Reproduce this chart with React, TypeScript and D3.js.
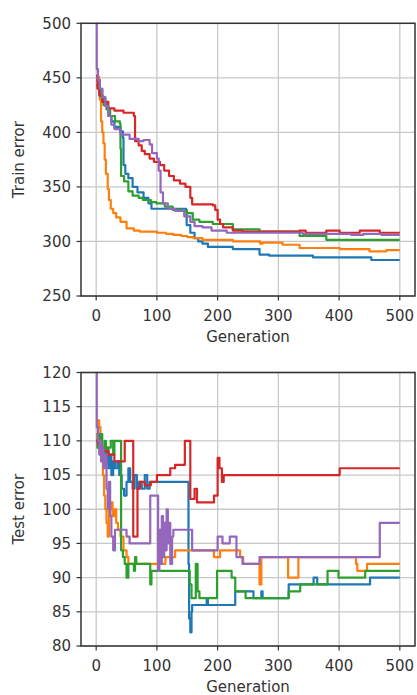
import React from 'react';
import * as d3 from 'd3';

// tab10 colours, in matplotlib draw order
const colors = ['#1f77b4', '#ff7f0e', '#2ca02c', '#d62728', '#9467bd'];

// train error, [generation, value] breakpoints (step after)
const trainBlue = [[0, 448], [5, 440], [10, 432], [15, 426], [18, 422], [20, 415], [25, 410], [30, 405], [40, 401], [44, 395], [45, 370], [48, 362], [53, 358], [60, 350], [68, 345], [78, 340], [86, 335], [91, 330], [148, 329], [149, 315], [155, 308], [162, 303], [168, 300], [175, 298], [184, 295], [225, 293], [269, 288], [285, 287], [357, 285.5], [453, 283], [500, 283]];
const trainOrange = [[0, 451], [5, 448], [6, 430], [8, 410], [10, 400], [12, 390], [14, 375], [16, 362], [19, 348], [21, 338], [24, 330], [28, 326], [33, 322], [40, 318], [50, 312], [62, 310], [72, 309], [100, 308], [115, 307], [127, 306], [140, 305], [150, 304], [160, 303], [175, 301.5], [225, 300], [270, 298], [274, 299], [307, 297], [335, 294], [401, 293], [450, 291], [478, 292], [500, 292]];
const trainGreen = [[0, 443], [6, 433], [12, 425], [17, 421], [23, 415], [31, 410], [39, 408], [40, 385], [41, 360], [46, 355], [53, 346], [60, 342], [70, 340], [77, 338], [90, 336], [99, 335], [113, 332], [126, 329], [140, 328], [149, 326], [159, 320], [170, 318], [192, 316], [225, 311], [269, 309], [335, 305], [379, 301.5], [500, 301.5]];
const trainRed = [[0, 452], [2, 440], [5, 434], [10, 428], [20, 422], [30, 420], [45, 418], [62, 415], [64, 392], [70, 388], [75, 383], [80, 380], [88, 376], [95, 373], [105, 370], [112, 365], [120, 360], [128, 356], [138, 353], [147, 350], [155, 340], [158, 334], [192, 333], [196, 329], [200, 320], [204, 316], [209, 313], [225, 310], [241, 309], [330, 309], [335, 310], [345, 308], [379, 310], [401, 308], [434, 310], [467, 308], [500, 308]];
const trainPurple = [[0, 500], [1, 458], [3, 448], [6, 440], [10, 432], [15, 424], [20, 415], [25, 407], [30, 403], [40, 398], [55, 394], [70, 392], [78, 393], [88, 389], [92, 381], [100, 376], [103, 365], [106, 345], [110, 335], [118, 330], [130, 328], [145, 323], [155, 318], [162, 314], [175, 313], [190, 310], [215, 308], [340, 307], [420, 306], [440, 307], [470, 306], [500, 306]];

// test error
const testBlue = [[0, 111], [2, 110], [4, 109], [6, 110], [9, 108], [12, 109], [15, 107], [18, 109], [20, 106], [23, 108], [25, 105], [28, 107], [31, 106], [35, 107], [38, 105], [42, 103], [46, 102], [50, 104], [53, 106], [56, 104], [60, 103], [63, 105], [67, 103], [70, 104], [75, 103], [80, 105], [84, 103], [88, 104], [151, 104], [152, 92], [153, 84], [155, 82], [157, 85], [158, 86], [180, 86], [182, 87], [184, 86], [228, 86], [229, 88], [258, 88], [259, 87], [271, 87], [272, 88], [274, 87], [316, 87], [317, 89], [357, 89], [358, 90], [363, 90], [364, 89], [450, 89], [451, 90], [500, 90]];
const testOrange = [[0, 110], [2, 111], [3, 113], [5, 112], [7, 110], [9, 108], [11, 105], [13, 102], [15, 100], [17, 98], [19, 96], [21, 100], [24, 101], [27, 99], [30, 100], [33, 98], [36, 97], [40, 96], [45, 94], [50, 93], [53, 92], [113, 92], [114, 93], [129, 93], [130, 94], [193, 94], [194, 93], [203, 93], [204, 94], [236, 94], [237, 93], [242, 92], [268, 92], [269, 89], [271, 89], [272, 93], [315, 93], [316, 90], [332, 90], [333, 93], [425, 93], [428, 92], [430, 91], [445, 91], [446, 92], [500, 92]];
const testGreen = [[0, 110], [2, 109], [4, 111], [6, 110], [8, 111], [10, 109], [14, 110], [16, 108], [20, 109], [24, 110], [28, 108], [30, 110], [40, 110], [41, 94], [44, 93], [47, 92], [50, 90], [53, 92], [60, 92], [62, 91], [64, 93], [66, 92], [88, 92], [89, 89], [91, 91], [153, 91], [154, 89], [157, 87], [163, 87], [164, 92], [167, 88], [170, 87], [198, 87], [199, 91], [222, 91], [223, 90], [228, 90], [229, 88], [245, 88], [246, 87], [316, 87], [317, 88], [335, 88], [336, 89], [380, 89], [381, 91], [398, 91], [399, 90], [442, 90], [443, 91], [500, 91]];
const testRed = [[0, 110], [3, 109.5], [8, 109], [12, 108.5], [20, 108], [30, 107], [47, 110], [61, 96], [68, 103], [72, 104], [80, 103.5], [90, 104], [100, 105], [122, 106], [130, 106.5], [146, 110], [155, 101.5], [162, 103], [166, 101], [194, 102], [200, 107.5], [203, 106], [207, 104], [210, 105], [401, 106], [500, 106]];
const testPurple = [[0, 120], [1, 112], [3, 110], [5, 108], [6, 110], [8, 107], [10, 109], [12, 106], [15, 108], [17, 103], [19, 100], [21, 104], [23, 99], [25, 96], [28, 94], [31, 97], [42, 97], [50, 96], [55, 95], [88, 95], [89, 102], [101, 102], [102, 91], [104, 97], [106, 92], [108, 99], [110, 93], [112, 98], [114, 94], [116, 100], [118, 95], [120, 98], [122, 92], [125, 96], [127, 97], [157, 97], [158, 94], [199, 94], [200, 96], [208, 95], [220, 96], [231, 93], [241, 92], [269, 93], [466, 93], [467, 98], [500, 98]];

const genTicks = [0, 100, 200, 300, 400, 500];
const trainTicks = [250, 300, 350, 400, 450, 500];
const testTicks = [80, 85, 90, 95, 100, 105, 110, 115, 120];

const font = '"DejaVu Sans", sans-serif';
const ink = '#333';

function Panel({ id, top, bottom, yDomain, yTicks, yLabel, series }) {
  const left = 81
  const right = 415
  const x = d3.scaleLinear().domain([-25, 525]).range([left, right])
  const y = d3.scaleLinear().domain(yDomain).range([bottom, top])
  const line = d3.line().x(d => x(d[0])).y(d => y(d[1])).curve(d3.curveStepAfter)

  return (
    <g>
      <defs>
        <clipPath id={id}>
          <rect x={left} y={top - 1} width={right - left} height={bottom - top + 2} />
        </clipPath>
      </defs>
      {genTicks.map(t => (
        <line key={'gx' + t} x1={x(t)} x2={x(t)} y1={top} y2={bottom} stroke="#c8c8c8" strokeWidth={1.3} />
      ))}
      {yTicks.map(t => (
        <line key={'gy' + t} x1={left} x2={right} y1={y(t)} y2={y(t)} stroke="#c8c8c8" strokeWidth={1.3} />
      ))}
      <g clipPath={`url(#${id})`}>
        {series.map((s, i) => (
          <path key={i} d={line(s)} fill="none" stroke={colors[i]} strokeWidth={2.2} strokeLinejoin="round" />
        ))}
      </g>
      <rect x={left} y={top} width={right - left} height={bottom - top} fill="none" stroke={ink} strokeWidth={1.5} />
      {genTicks.map(t => (
        <g key={'tx' + t}>
          <line x1={x(t)} x2={x(t)} y1={bottom} y2={bottom + 4.5} stroke={ink} strokeWidth={1.2} />
          <text x={x(t)} y={bottom + 25} textAnchor="middle" fontSize={15} fill={ink} fontFamily={font}>{t}</text>
        </g>
      ))}
      {yTicks.map(t => (
        <g key={'ty' + t}>
          <line x1={left - 4.5} x2={left} y1={y(t)} y2={y(t)} stroke={ink} strokeWidth={1.2} />
          <text x={left - 10} y={y(t)} dy="0.36em" textAnchor="end" fontSize={15} fill={ink} fontFamily={font}>{t}</text>
        </g>
      ))}
      <text x={(left + right) / 2} y={bottom + 46} textAnchor="middle" fontSize={15} fill={ink} fontFamily={font}>Generation</text>
      <text transform={`translate(24,${(top + bottom) / 2}) rotate(-90)`} textAnchor="middle" fontSize={15} fill={ink} fontFamily={font}>{yLabel}</text>
    </g>
  )
}

export default function App() {
  return (
    <svg width={417} height={695} style={{ position: 'absolute', left: 0, top: 0, background: '#fff' }}>
      <Panel id="clipTrain" top={23.3} bottom={296} yDomain={[250, 500]} yTicks={trainTicks} yLabel="Train error"
        series={[trainBlue, trainOrange, trainGreen, trainRed, trainPurple]} />
      <Panel id="clipTest" top={372.5} bottom={646} yDomain={[80, 120]} yTicks={testTicks} yLabel="Test error"
        series={[testBlue, testOrange, testGreen, testRed, testPurple]} />
    </svg>
  )
}
